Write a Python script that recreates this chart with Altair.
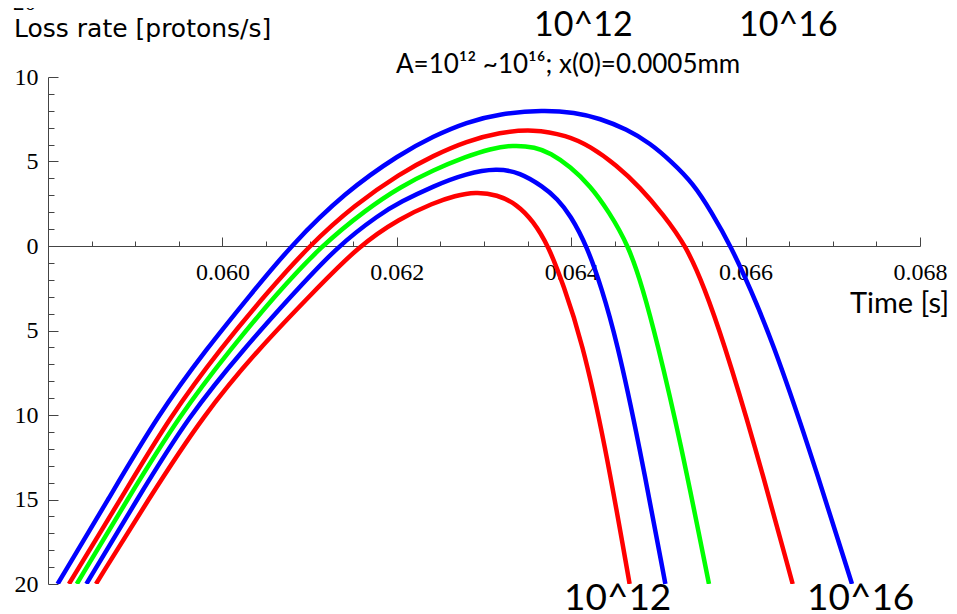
import altair as alt
import pandas as pd

series_names = ["10^12", "10^13", "10^14", "10^15", "10^16"]
series_colors = ["#ff0000", "#0000ff", "#00ff00", "#ff0000", "#0000ff"]

t_a12 = [0.05855, 0.05915, 0.05978, 0.06043, 0.06103, 0.06156, 0.06204, 0.06242, 0.06267,
         0.06290, 0.06315, 0.06338, 0.06356, 0.06374, 0.06391, 0.06412, 0.06438, 0.06467]
v_a12 = [-20, -15, -10, -6, -2.8, 0, 1.65, 2.55, 2.98,
         3.2, 3.05, 2.45, 1.5, 0, -2.3, -5.56, -11.48, -20]

t_a13 = [0.05844, 0.05902, 0.05962, 0.06026, 0.06080, 0.06132, 0.06181, 0.06204, 0.06242,
         0.06280, 0.06315, 0.06341, 0.06368, 0.06384, 0.06399, 0.06418, 0.06435, 0.06452,
         0.06477, 0.06508]
v_a13 = [-20, -15, -10, -6, -2.9, 0, 1.9, 2.6, 3.55,
         4.3, 4.6, 4.35, 3.5, 2.8, 1.83, 0, -2.5, -5.56,
         -11.48, -20]

t_a14 = [0.05833, 0.05891, 0.05951, 0.06011, 0.06061, 0.06113, 0.06166, 0.06204, 0.06242,
         0.06280, 0.06307, 0.06333, 0.06359, 0.06376, 0.06399, 0.06422, 0.06443, 0.06466,
         0.06482, 0.06498, 0.06525, 0.06558]
v_a14 = [-20, -15, -10, -6, -2.9, 0, 2.2, 3.5, 4.5,
         5.3, 5.75, 5.98, 5.85, 5.5, 4.7, 3.55, 2.05, 0,
         -2.5, -5.56, -11.48, -20]

t_a15 = [0.05824, 0.05883, 0.05941, 0.05999, 0.06049, 0.06099, 0.06152, 0.06204, 0.06242,
         0.06280, 0.06318, 0.06356, 0.06395, 0.06422, 0.06452, 0.06479, 0.06505, 0.06532,
         0.06553, 0.06574, 0.06609, 0.06654]
v_a15 = [-20, -15, -10, -6, -2.9, 0, 2.45, 4.3, 5.35,
         6.2, 6.72, 6.92, 6.55, 5.9, 4.78, 3.47, 1.9, 0,
         -2.5, -5.56, -11.48, -20]

t_a16 = [0.05811, 0.05869, 0.05926, 0.05983, 0.06032, 0.06078, 0.06141, 0.06204, 0.06242,
         0.06280, 0.06318, 0.06368, 0.06404, 0.06433, 0.06464, 0.06490, 0.06515, 0.06540,
         0.06561, 0.06583, 0.06606, 0.06630, 0.06670, 0.06722]
v_a16 = [-20, -15, -10, -6, -2.9, 0, 3.2, 5.45, 6.5,
         7.33, 7.83, 8.05, 7.9, 7.55, 6.9, 6.1, 5.0, 3.7,
         2.0, 0, -2.6, -5.56, -11.48, -20]

x_ticks = [0.0585, 0.059, 0.0595, 0.060, 0.0605, 0.061, 0.0615, 0.062, 0.0625, 0.063,
           0.0635, 0.064, 0.0645, 0.065, 0.0655, 0.066, 0.0665, 0.067, 0.0675, 0.068]
x_labels = [0.060, 0.062, 0.064, 0.066, 0.068]
y_ticks = [-20, -19, -18, -17, -16, -15, -14, -13, -12, -11, -10, -9, -8, -7, -6, -5,
           -4, -3, -2, -1, 0, 1, 2, 3, 4, 5, 6, 7, 8, 9, 10]
y_labels = [-20, -15, -10, -5, 0, 5, 10]

rows = []
for name, ts, vs in zip(series_names, [t_a12, t_a13, t_a14, t_a15, t_a16],
                        [v_a12, v_a13, v_a14, v_a15, v_a16]):
    for t, v in zip(ts, vs):
        rows.append({"series": name, "t": t, "v": v})
df = pd.DataFrame(rows)

W, H = 872, 507
AX = "#444444"
xscale = alt.Scale(domain=[0.058, 0.068], nice=False, zero=False)
yscale = alt.Scale(domain=[-20, 10], nice=False, zero=False)

base = alt.Chart(df)

lines = base.mark_line(strokeWidth=4.5, clip=True, interpolate="basis").encode(
    x=alt.X("t:Q", scale=xscale, title=None,
            axis=alt.Axis(orient="top", offset=-169, values=x_ticks, labels=False,
                          grid=False, domain=True, domainColor=AX, domainWidth=1,
                          tickColor=AX, tickWidth=1,
                          tickSize={"condition": {"test": "abs(round(datum.value*10000)) % 20 == 0",
                                                  "value": 9}, "value": 5})),
    y=alt.Y("v:Q", scale=yscale, title=None,
            axis=alt.Axis(orient="left", values=y_labels, ticks=False, labelPadding=10,
                          labelExpr="format(abs(datum.value), 'd')", grid=False,
                          domain=True, domainColor=AX, domainWidth=1,
                          labelFont="Liberation Serif", labelFontSize=24, labelColor="black")),
    color=alt.Color("series:N", scale=alt.Scale(domain=series_names, range=series_colors),
                    legend=None),
)

ghost = base.mark_line(opacity=0).encode(
    x=alt.X("t:Q", scale=xscale, title=None,
            axis=alt.Axis(orient="bottom", offset=-338, values=x_labels, ticks=False,
                          domain=False, grid=False, format=".3f", labelPadding=14,
                          labelFlush=False, labelOverlap=False,
                          labelFont="Liberation Serif", labelFontSize=24, labelColor="black")),
    y=alt.Y("v:Q", scale=yscale, title=None,
            axis=alt.Axis(orient="right", offset=-W, values=y_ticks, labels=False,
                          domain=False, grid=False, tickColor=AX, tickWidth=1,
                          tickSize={"condition": {"test": "datum.value % 5 == 0", "value": 10},
                                    "value": 6})),
    detail="series:N",
)

dummy = pd.DataFrame({"k": [0]})


def label(text, x, y, size, font="Lato"):
    return alt.Chart(dummy).mark_text(
        text=text, font=font, fontSize=size, align="left", baseline="alphabetic",
        color="black"
    ).encode(x=alt.value(x), y=alt.value(y))


texts = [
    label("20", -35, -67, 23, font="Liberation Serif"),
    label("Loss rate [protons/s]", -34, -40, 25, font="DejaVu Sans"),
    label("10^12", 486, -41, 34),
    label("10^16", 691, -41, 34),
    label("A=10\u00b9\u00b2 ~10\u00b9\u2076; x(0)=0.0005mm", 348, -4, 26),
    label("Time [s]", 802, 236, 29),
    label("10^12", 516, 533, 37),
    label("10^16", 759, 533, 37),
]

chart = alt.layer(lines, ghost, *texts).resolve_axis(
    x="independent", y="independent"
).properties(
    width=W, height=H,
    padding={"left": 40, "top": 69, "right": 29, "bottom": 30},
    autosize=alt.AutoSizeParams(type="none"),
    background="white",
).configure_view(stroke=None)

chart.save("out.html", embed_options={"renderer": "svg", "actions": False})
